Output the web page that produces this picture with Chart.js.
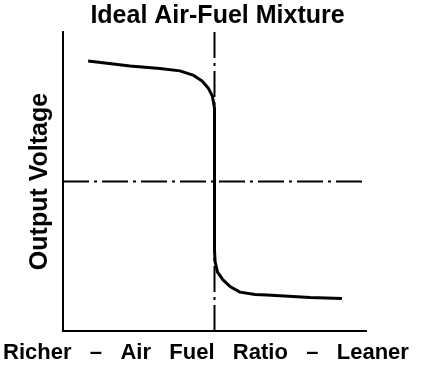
<!DOCTYPE html>
<html>
<head>
<meta charset="utf-8">
<script src="https://cdn.jsdelivr.net/npm/chart.js@4/dist/chart.umd.min.js"></script>
<style>
    body { margin: 0; background: #fff; }
</style>
</head>
<body>
<canvas id="sensor-chart" width="432" height="366"></canvas>
<script>
/*data*/
// air-fuel ratio axis runs 0 (rich) .. 100 (lean), output voltage 0 .. 100
let curveRatio = [8.3, 22.1, 32.0, 38.6, 42.9, 45.9, 47.9, 49.3, 50, 50, 50.2, 51.0, 52.8, 55.1, 58.4, 63.4, 67.3, 81.5, 92.1];
let curveVoltage = [90.3, 88.6, 87.8, 87.0, 85.6, 83.6, 81.3, 78.6, 74.6, 27.1, 23.1, 19.7, 17.1, 14.9, 13.0, 12.2, 12.0, 11.2, 10.9];
let idealRatio = 50;
let midVoltage = 50;
let ratioRange = [0, 100];
let voltageRange = [0, 100];
/**/

let curvePoints = curveRatio.map((r, i) => ({x: r, y: curveVoltage[i]}));
let midVoltageLine = ratioRange.map(r => ({x: r, y: midVoltage}));
let idealRatioLine = voltageRange.map(v => ({x: idealRatio, y: v}));

let dashDot = [26, 5, 3, 5];

let sensorChart = {
    type: 'scatter',
    data: {
        datasets: [{
            data: curvePoints,
            showLine: true,
            borderColor: '#000',
            borderWidth: 3,
            pointRadius: 0,
            tension: 0,
            borderJoinStyle: 'round'
        }, {
            data: midVoltageLine,
            showLine: true,
            borderColor: '#000',
            borderWidth: 2,
            borderDash: dashDot,
            pointRadius: 0
        }, {
            data: idealRatioLine,
            showLine: true,
            borderColor: '#000',
            borderWidth: 2,
            borderDash: dashDot,
            pointRadius: 0
        }]
    },
    options: {
        responsive: false,
        animation: false,
        layout: {
            padding: {left: 3, right: 0, top: 0, bottom: 0}
        },
        scales: {
            x: {
                min: ratioRange[0],
                max: ratioRange[1],
                grid: {display: false, drawTicks: false},
                ticks: {display: false},
                border: {color: '#000', width: 2}
            },
            y: {
                min: voltageRange[0],
                max: voltageRange[1],
                grid: {display: false, drawTicks: false},
                ticks: {display: false},
                border: {color: '#000', width: 2},
                title: {
                    display: true,
                    text: 'Output Voltage',
                    color: '#000',
                    font: {family: 'Liberation Sans', size: 25, weight: 'bold'},
                    padding: {top: 22, bottom: 8}
                }
            },
            // empty strip that keeps the plot clear of the right edge
            spacer: {
                position: 'right',
                grid: {display: false, drawTicks: false},
                ticks: {display: false},
                border: {display: false},
                afterFit: (scale) => { scale.width = 66; }
            }
        },
        plugins: {
            legend: {display: false},
            tooltip: {enabled: false},
            title: {
                display: true,
                text: 'Ideal Air-Fuel Mixture',
                color: '#000',
                font: {family: 'Liberation Sans', size: 25, weight: 'bold'},
                padding: {top: 1, bottom: 1}
            },
            subtitle: {
                display: true,
                position: 'bottom',
                align: 'start',
                text: 'Richer   –   Air   Fuel   Ratio   –   Leaner',
                color: '#000',
                font: {family: 'Liberation Sans', size: 22, weight: 'bold'},
                padding: {top: 8.6, bottom: 0}
            }
        }
    }
};

window.onload = function() {
    new Chart(document.getElementById('sensor-chart'), sensorChart);
}
</script>
</body>
</html>
